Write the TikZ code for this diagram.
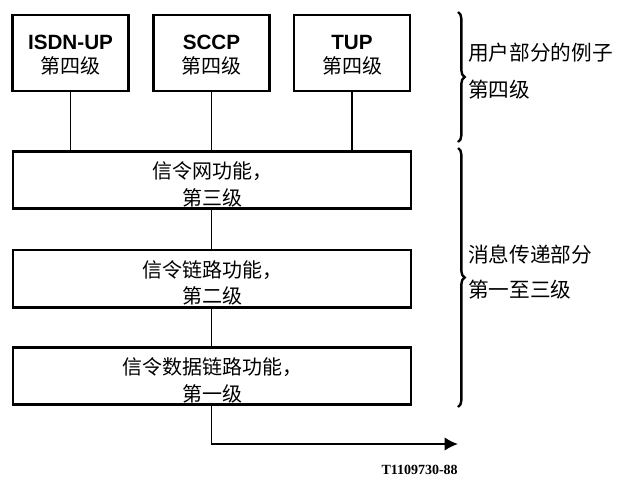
\documentclass[tikz,border=0pt]{standalone}
\usepackage{fontspec}
\setmainfont{Liberation Sans}
\newfontfamily\cjk{Noto Sans CJK SC}
\newfontfamily\labelserif{Liberation Serif}
\usetikzlibrary{arrows.meta,decorations.pathreplacing}
\newcommand{\topstrut}[1]{\rule{0pt}{#1}}
\begin{document}
\begin{tikzpicture}[x=0.75pt,y=-0.75pt,
  upbox/.style={draw,line width=2pt,minimum width=87pt,minimum height=57pt,inner sep=0pt,align=center,
    font=\fontsize{15.5}{18}\selectfont},
  funcbox/.style={draw,line width=2pt,minimum width=298.5pt,minimum height=43pt,inner sep=0pt,align=center,
    font=\cjk\fontsize{15}{20}\selectfont},
  conn/.style={line width=1.4pt},
  bracestyle/.style={decorate,decoration={brace,amplitude=5pt},line width=1.8pt},
  sidetext/.style={anchor=west,inner sep=0pt,font=\cjk\fontsize{15.5}{18}\selectfont}]
\useasboundingbox (0,0) rectangle (617,476);
% user parts
\node[upbox] (u1) at (70.5,53) {\topstrut{14.5pt}\textbf{ISDN-UP}\\{\cjk\fontsize{15}{18}\selectfont 第四级}};
\node[upbox] (u2) at (211.5,53) {\topstrut{14.5pt}\textbf{SCCP}\\{\cjk\fontsize{15}{18}\selectfont 第四级}};
\node[upbox] (u3) at (352,53) {\topstrut{14.5pt}\textbf{TUP}\\{\cjk\fontsize{15}{18}\selectfont 第四级}};
% function levels
\node[funcbox] (n3) at (212,180) {\topstrut{19pt}信令网功能，\\第三级};
\node[funcbox] (n2) at (212,278.5) {\topstrut{19pt}信令链路功能，\\第二级};
\node[funcbox] (n1) at (212,376) {\topstrut{19pt}信令数据链路功能，\\第一级};
% connectors
\draw[conn] (u1.south) -- (u1.south |- n3.north);
\draw[conn] (u2.south) -- (u2.south |- n3.north);
\draw[conn] (u3.south) -- (u3.south |- n3.north);
\draw[conn] (u2.south |- n3.south) -- (u2.south |- n2.north);
\draw[conn] (u2.south |- n2.south) -- (u2.south |- n1.north);
\coordinate (bend) at (u2.south |- 0,444);
\coordinate (out) at (458,444);
\draw[conn,-{Latex[length=10pt,width=10pt]}] (u2.south |- n1.south) -- (bend) -- (out);
% braces
\coordinate (b1t) at (458,12);
\coordinate (b1b) at (458,142);
\coordinate (b2t) at (458,148);
\coordinate (b2b) at (458,407);
\draw[bracestyle] (b1t) -- (b1b);
\draw[bracestyle] (b2t) -- (b2b);
\node[sidetext] (l1) at (468,53) {用户部分的例子};
\node[sidetext] (l2) at (468,90) {第四级};
\node[sidetext] (l3) at (468,255) {消息传递部分};
\node[sidetext] (l4) at (468,290) {第一至三级};
% figure id
\node[anchor=east,inner sep=0pt,font=\labelserif\bfseries\fontsize{10.5}{12}\selectfont] (fid) at (458,470) {T1109730-88};
\end{tikzpicture}
\end{document}
